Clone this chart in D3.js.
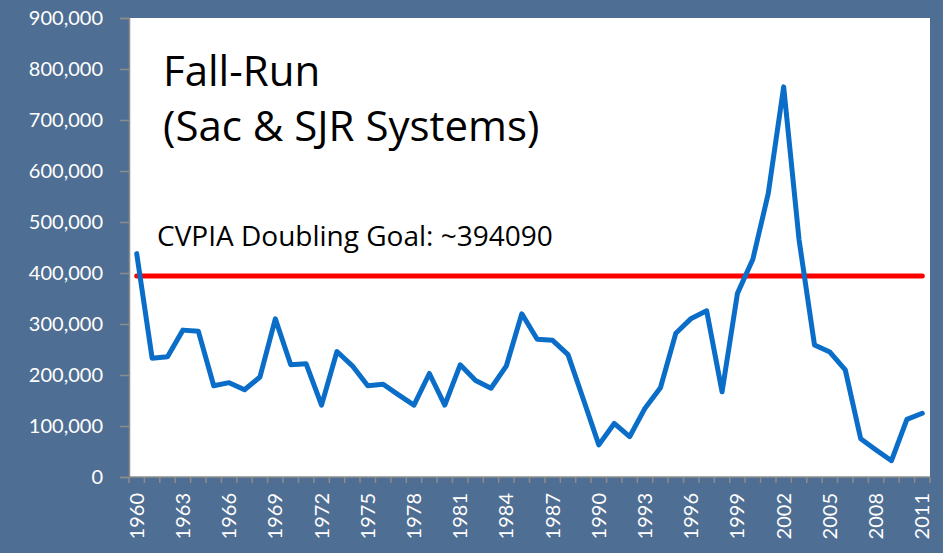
<!DOCTYPE html>
<html>
<head>
<meta charset="utf-8">
<script src="https://cdn.jsdelivr.net/npm/d3@7"></script>
<style>
  html, body { margin: 0; padding: 0; background: #4f6e93; }
  svg { display: block; }
  .tick text { font-family: Lato, "Open Sans", sans-serif; }
</style>
</head>
<body>
<div id="chart"></div>
<script>
const years = d3.range(1960, 2012);
const escapement = [
  438000, 233000, 236000, 288000, 286000, 179000, 185000, 171000, 196000, 310000,
  220000, 222000, 141000, 246000, 218000, 179000, 182000, 161000, 141000, 203000,
  141000, 220000, 189000, 174000, 218000, 320000, 270000, 268000, 240000, 152000,
  63000, 105000, 79000, 135000, 175000, 282000, 311000, 326000, 167000, 360000,
  427000, 556000, 765000, 465000, 259000, 245000, 210000, 75000, 53000, 32000,
  113000, 125000
];
const goal = 394090;
const yTicks = [0, 100000, 200000, 300000, 400000, 500000, 600000, 700000, 800000, 900000];
const xLabelYears = [1960, 1963, 1966, 1969, 1972, 1975, 1978, 1981, 1984, 1987,
  1990, 1993, 1996, 1999, 2002, 2005, 2008, 2011];

const W = 943, H = 553;
const margin = { top: 18, right: 13, bottom: 76, left: 129 };
const width = W - margin.left - margin.right;
const height = H - margin.top - margin.bottom;

const svg = d3.select("#chart").append("svg")
  .attr("width", W)
  .attr("height", H);

svg.append("rect")
  .attr("width", W).attr("height", H)
  .attr("fill", "#4f6e93");

const g = svg.append("g")
  .attr("transform", `translate(${margin.left},${margin.top})`);

g.append("rect")
  .attr("width", width).attr("height", height)
  .attr("fill", "#ffffff");

const x = d3.scaleBand().domain(years).range([0, width]);
const y = d3.scaleLinear().domain([0, 900000]).range([height, 0]);
const cx = d => x(d) + x.bandwidth() / 2;

// y axis
const yAxis = g.append("g")
  .call(d3.axisLeft(y).tickValues(yTicks).tickFormat(d3.format(",")).tickSizeOuter(0).tickSize(9).tickPadding(17));
yAxis.select(".domain").attr("stroke", "#8c8c8c").attr("stroke-width", 1.5);
yAxis.selectAll(".tick line").attr("stroke", "#8c8c8c").attr("stroke-width", 1.5);
yAxis.selectAll(".tick text").attr("fill", "#ffffff").attr("font-size", 20);

// x axis: tick marks at band edges
const xAxis = g.append("g").attr("transform", `translate(0,${height})`);
xAxis.append("line")
  .attr("x1", 0).attr("x2", width)
  .attr("stroke", "#8c8c8c").attr("stroke-width", 1.5);
xAxis.selectAll("line.edge")
  .data(years.concat([null]))
  .join("line")
    .attr("class", "edge")
    .attr("x1", (d, i) => i * x.step())
    .attr("x2", (d, i) => i * x.step())
    .attr("y1", 0).attr("y2", 6)
    .attr("stroke", "#8c8c8c").attr("stroke-width", 1.5);
xAxis.selectAll("text.year")
  .data(xLabelYears)
  .join("text")
    .attr("class", "year")
    .attr("transform", d => `translate(${cx(d) + 7},16) rotate(-90)`)
    .attr("text-anchor", "end")
    .attr("fill", "#ffffff")
    .attr("font-family", "Lato, 'Open Sans', sans-serif")
    .attr("font-size", 20)
    .text(d => d);

// goal line
g.append("line")
  .attr("x1", cx(years[0])).attr("x2", cx(years[years.length - 1]))
  .attr("y1", y(goal)).attr("y2", y(goal))
  .attr("stroke", "#ff0000").attr("stroke-width", 5)
  .attr("stroke-linecap", "round");

// series line
const line = d3.line()
  .x((d, i) => cx(years[i]))
  .y(d => y(d));

g.append("path")
  .datum(escapement)
  .attr("d", line)
  .attr("fill", "none")
  .attr("stroke", "#0a6ec8")
  .attr("stroke-width", 5)
  .attr("stroke-linejoin", "round")
  .attr("stroke-linecap", "round");

// annotations
const font = "'Open Sans', Lato, sans-serif";
g.append("text")
  .attr("x", 163 - margin.left).attr("y", 86 - margin.top)
  .attr("font-family", font).attr("font-size", 42).attr("fill", "#000")
  .text("Fall-Run");
g.append("text")
  .attr("x", 163 - margin.left).attr("y", 141 - margin.top)
  .attr("font-family", font).attr("font-size", 42).attr("fill", "#000")
  .text("(Sac & SJR Systems)");
g.append("text")
  .attr("x", 157 - margin.left).attr("y", 246 - margin.top)
  .attr("font-family", font).attr("font-size", 28).attr("fill", "#000")
  .text(`CVPIA Doubling Goal: ~${goal}`);
</script>
</body>
</html>
